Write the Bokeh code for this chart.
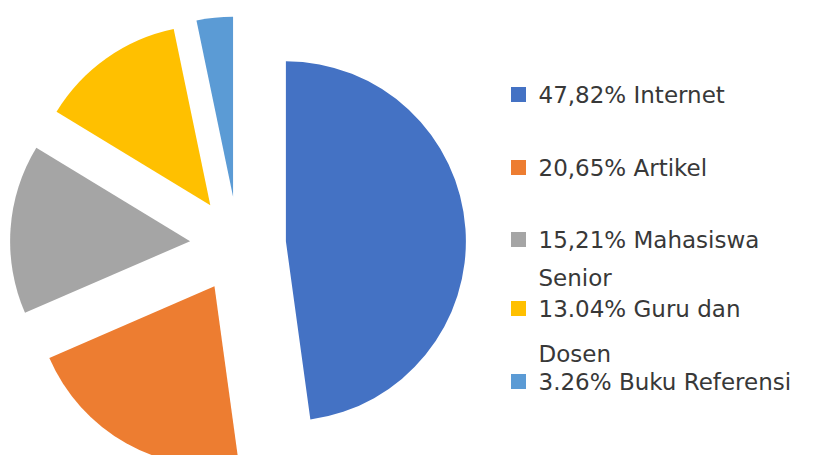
import math
from bokeh.plotting import figure
from bokeh.models import Range1d, ColumnDataSource
from bokeh.core.properties import value
from bokeh.embed import file_html
from bokeh.resources import INLINE

# ---- data ----
categories = ["Internet", "Artikel", "Mahasiswa Senior", "Guru dan Dosen", "Buku Referensi"]
values = [47.82, 20.65, 15.21, 13.04, 3.26]
legend_lines = [
    ["47,82% Internet"],
    ["20,65% Artikel"],
    ["15,21% Mahasiswa", "Senior"],
    ["13.04% Guru dan", "Dosen"],
    ["3.26% Buku Referensi"],
]
colors = ["#4472C4", "#ED7D31", "#A5A5A5", "#FFC000", "#5B9BD5"]

# ---- layout (image pixel coordinates, y measured downward) ----
W, H = 821, 455
IMG_H = 463
cx_img, cy_img = 237.5, 244.0
radius = 180
explode = 48

def yd(y_img):
    return IMG_H - y_img

total = sum(values)
starts, ends, xs, ys = [], [], [], []
acc = 0.0
for v in values:
    t1 = acc / total * 360.0           # clockwise from top
    t2 = (acc + v) / total * 360.0
    acc += v
    mid = math.radians((t1 + t2) / 2)
    xs.append(cx_img + explode * math.sin(mid))
    ys.append(yd(cy_img - explode * math.cos(mid)))
    starts.append(math.radians(90 - t2))
    ends.append(math.radians(90 - t1))

src = ColumnDataSource(dict(x=xs, y=ys, start=starts, end=ends, color=colors))

p = figure(width=W, height=H, output_backend="svg", toolbar_location=None,
           x_range=Range1d(0, W), y_range=Range1d(yd(H), yd(0)),
           min_border=0, outline_line_color=None)
p.axis.visible = False
p.grid.visible = False
p.background_fill_color = "white"
p.border_fill_color = "white"

p.wedge(x="x", y="y", radius=radius, start_angle="start", end_angle="end",
        color="color", line_color=None, source=src)

# ---- legend ----
line_y = [[94], [167], [239, 277], [308, 353], [381]]
sq_x, txt_x = 518, 538
tx, ty, tt = [], [], []
for i, lines in enumerate(legend_lines):
    for j, s in enumerate(lines):
        tx.append(txt_x)
        ty.append(yd(line_y[i][j]))
        tt.append(s)

sq_y = [yd(94), yd(167), yd(239), yd(308), yd(381)]
p.rect(x=[sq_x] * 5, y=sq_y, width=15, height=15, color=colors, line_color=None)
p.text(x=tx, y=ty, text=tt, text_font=value("DejaVu Sans"), text_font_size="23px",
       text_baseline="middle", text_align="left", text_color="#383838")

open("out.html", "w").write(file_html(p, INLINE))
